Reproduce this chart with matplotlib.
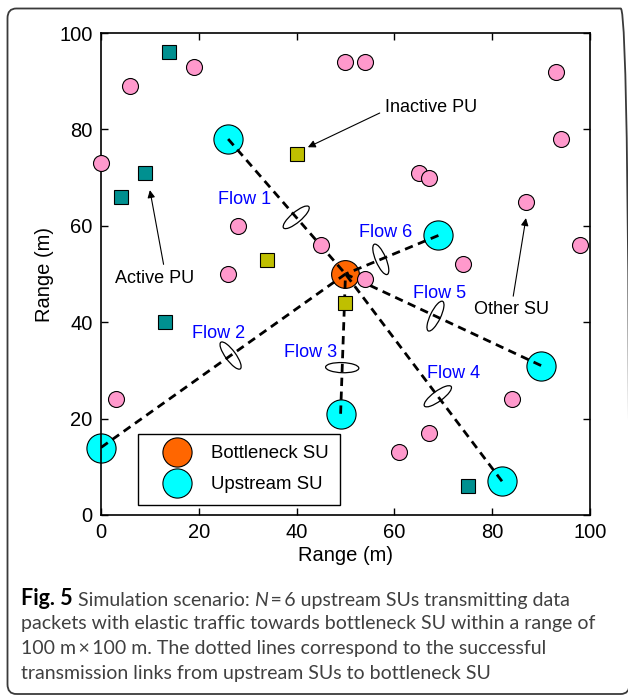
import matplotlib
matplotlib.use('Agg')
import matplotlib.pyplot as plt
import numpy as np
from matplotlib.patches import Ellipse, FancyBboxPatch
from matplotlib.lines import Line2D

# node positions (m)
other_x = [6, 19, 50, 54, 0, 93, 94, 65, 67, 87, 28, 45, 98, 74, 26, 54, 3, 84, 67, 61]
other_y = [89, 93, 94, 94, 73, 92, 78, 71, 70, 65, 60, 56, 56, 52, 50, 49, 24, 24, 17, 13]
upstream_x = [26, 0, 49, 82, 90, 69]   # flows 1..6
upstream_y = [78, 14, 21, 7, 31, 58]
bottleneck_x = [50]
bottleneck_y = [50]
active_pu_x = [14, 9, 4, 13, 75]
active_pu_y = [96, 71, 66, 40, 6]
inactive_pu_x = [40, 34, 50]
inactive_pu_y = [75, 53, 44]

flow_names = ['Flow 1', 'Flow 2', 'Flow 3', 'Flow 4', 'Flow 5', 'Flow 6']
flow_label_x = [29.4, 24.0, 42.8, 72.0, 69.3, 58.3]
flow_label_y = [65.4, 37.6, 33.8, 29.3, 45.9, 58.7]
ellipse_frac = [0.58, 0.53, 0.33, 0.41, 0.54, 0.62]  # where the ellipse sits along each link

caption_line1 = [('Fig. 5', 'normal', 'bold'), (' Simulation scenario: ', 'normal', 'normal'),
                 ('N', 'italic', 'normal'), ('\u2009=\u20096 upstream SUs transmitting data', 'normal', 'normal')]
caption_rest = ['packets with elastic traffic towards bottleneck SU within a range of',
                '100 m\u2009\u00d7\u2009100 m. The dotted lines correspond to the successful',
                'transmission links from upstream SUs to bottleneck SU']

plt.rcParams['font.family'] = ['Liberation Sans', 'DejaVu Sans']

fig = plt.figure(figsize=(6.28, 6.95), dpi=100)
ax = fig.add_axes([0.1608, 0.259, 0.7787, 0.6935])

# rounded frame around figure + caption
frame = FancyBboxPatch((7.5 / 628, 1 - 694 / 695), (629.5 - 7.5) / 628, (694 - 8.5) / 695,
                       boxstyle='round,pad=0,rounding_size=0.014', transform=fig.transFigure,
                       fill=False, ec='#3a3a3a', lw=1.3, clip_on=False)
fig.patches.append(frame)

# markers
ax.plot(upstream_x, upstream_y, 'o', ms=21, mfc='#00ffff', mec='k', mew=0.8, ls='none', clip_on=False, zorder=2)
ax.plot(bottleneck_x, bottleneck_y, 'o', ms=20, mfc='#ff6600', mec='k', mew=0.8, ls='none', zorder=2)

# links
for ux, uy in zip(upstream_x, upstream_y):
    ax.plot([ux, bottleneck_x[0]], [uy, bottleneck_y[0]], 'k--', lw=2, dashes=(3, 2), zorder=3)

ax.plot(other_x, other_y, 'o', ms=11.5, mfc='#ff99cc', mec='k', mew=0.8, ls='none', clip_on=False, zorder=4)
ax.plot(active_pu_x, active_pu_y, 's', ms=10, mfc='#009090', mec='k', mew=0.8, ls='none', zorder=4)
ax.plot(inactive_pu_x, inactive_pu_y, 's', ms=10, mfc='#bfbf00', mec='k', mew=0.8, ls='none', zorder=4)

# flow ellipses and labels
for i, (ux, uy) in enumerate(zip(upstream_x, upstream_y)):
    dx = bottleneck_x[0] - ux
    dy = bottleneck_y[0] - uy
    cx = ux + ellipse_frac[i] * dx
    cy = uy + ellipse_frac[i] * dy
    ang = np.degrees(np.arctan2(dy, dx)) + 90
    ax.add_patch(Ellipse((cx, cy), 6.8, 2.1, angle=ang, fill=False, ec='k', lw=0.9, zorder=5))
    ax.text(flow_label_x[i], flow_label_y[i], flow_names[i], color='#0000ff', fontsize=13,
            ha='center', va='center', zorder=6)

# annotations
arr = dict(arrowstyle='-|>', color='k', lw=0.8, mutation_scale=11, shrinkA=0, shrinkB=0)
ax.annotate('', xy=(42.3, 76.3), xytext=(57.0, 83.4), arrowprops=arr)
ax.text(67.5, 84.6, 'Inactive PU', fontsize=13, ha='center', va='center')
ax.annotate('', xy=(10.0, 67.4), xytext=(12.8, 52.0), arrowprops=arr)
ax.text(11.0, 49.0, 'Active PU', fontsize=13, ha='center', va='center')
ax.annotate('', xy=(86.9, 61.6), xytext=(84.3, 45.4), arrowprops=arr)
ax.text(84.0, 42.7, 'Other SU', fontsize=13, ha='center', va='center')

ax.set_xlim(0, 100)
ax.set_ylim(0, 100)
ax.set_xticks([0, 20, 40, 60, 80, 100])
ax.set_yticks([0, 20, 40, 60, 80, 100])
ax.tick_params(direction='in', top=True, right=True, length=5, width=1, labelsize=14.5, pad=6)
for s in ax.spines.values():
    s.set_linewidth(1.2)
ax.set_xlabel('Range (m)', fontsize=14.5, labelpad=3)
ax.set_ylabel('Range (m)', fontsize=14.5, labelpad=4)

handles = [Line2D([], [], marker='o', ls='none', ms=21, mfc='#ff6600', mec='k', mew=0.8),
           Line2D([], [], marker='o', ls='none', ms=21, mfc='#00ffff', mec='k', mew=0.8)]
leg = ax.legend(handles, ['Bottleneck SU', 'Upstream SU'], loc='lower left',
                bbox_to_anchor=(0.0757, 0.0207), borderaxespad=0, fontsize=13.4,
                fancybox=False, edgecolor='k', framealpha=1, handletextpad=0.3,
                labelspacing=0.76, borderpad=0.62, handlelength=3.0)
leg.get_frame().set_linewidth(1.0)

# caption
cap_font = ['Lato', 'DejaVu Sans']
cap_col = '#404040'
cs = 14.05
x0 = 21 / 628
baselines = [605, 629.5, 654, 678.5]
prev = None
for piece, style, weight in caption_line1:
    col = 'k' if weight == 'bold' else cap_col
    if prev is None:
        prev = fig.text(x0, 1 - baselines[0] / 695, piece, fontsize=15.5, fontweight=weight,
                        color=col, family=cap_font, va='baseline', ha='left')
    else:
        prev = ax.annotate(piece, xy=(1, 0), xycoords=prev, va='bottom', ha='left',
                           fontsize=cs, fontweight=weight, style=style, color=col,
                           family=cap_font, annotation_clip=False)
for line, yb in zip(caption_rest, baselines[1:]):
    fig.text(x0, 1 - yb / 695, line, fontsize=cs, color=cap_col, family=cap_font,
             va='baseline', ha='left')

fig.savefig('out.png', dpi=100)
